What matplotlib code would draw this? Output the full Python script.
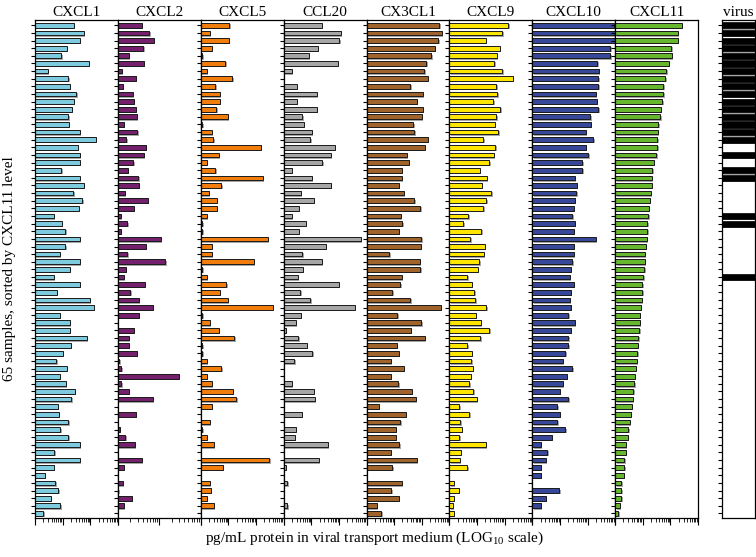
import numpy as np
import matplotlib
matplotlib.use("Agg")
import matplotlib.pyplot as plt
import matplotlib.patheffects as pe
from matplotlib.ticker import LogLocator, NullFormatter

plt.rcParams['font.family'] = ['Liberation Serif', 'DejaVu Serif']
plt.rcParams['mathtext.fontset'] = 'custom'
plt.rcParams['mathtext.rm'] = 'Liberation Serif'

nan = np.nan

# log10 pg/mL, 65 samples sorted by CXCL11 (top = highest); nan = not detected
cxcl1 = [1.40, 1.77, 1.63, 1.16, 0.95, 1.95, 0.46, 1.20, 1.27, 1.49, 1.40, 1.33, 1.21, 1.22, 1.63, 2.21,
         1.55, 1.63, 1.63, 0.95, 1.63, 1.77, 1.38, 1.71, 1.58, 0.68, 0.97, 1.09, 1.63, 1.09, 0.89, 1.63,
         1.27, 0.68, 1.63, 0.79, 1.98, 2.12, 0.89, 1.26, 1.25, 1.88, 1.29, 1.01, 0.77, 1.16, 0.89, 1.11,
         1.43, 1.32, 0.83, 0.86, 1.21, 0.91, 1.21, 1.63, 0.70, 1.63, 0.67, 0.35, 0.73, 0.85, 0.57, 0.92, 0.30]
cxcl2 = [0.58, 0.76, 0.86, 0.61, 0.27, 0.63, 0.09, 0.43, 0.12, 0.36, 0.38, 0.43, 0.46, 0.15, 0.47, 0.20,
         0.67, 0.63, 0.37, 0.24, 0.49, 0.51, 0.17, 0.72, 0.39, 0.07, 0.23, 0.07, 1.04, 0.67, 0.23, 1.14,
         0.19, 0.15, 0.65, 0.30, 0.51, 0.85, 0.51, nan, 0.39, 0.27, 0.26, 0.46, 0.03, 0.08, 1.47, 0.08,
         0.27, 0.84, nan, 0.43, nan, 0.05, 0.18, 0.41, nan, 0.58, 0.15, nan, 0.12, 0.01, 0.33, 0.15, nan]
cxcl5 = [1.03, 0.32, 1.01, 0.40, 0.06, 0.89, 0.21, 1.14, 0.53, 0.68, 0.68, 0.57, 0.97, 0.06, 0.40, 0.45,
         2.17, 0.65, 0.21, 0.53, 2.25, 0.75, 0.30, 0.59, 0.59, 0.21, 0.06, 0.06, 2.42, 0.40, 0.40, 1.91,
         0.06, 0.21, 0.93, 0.68, 0.97, 2.60, 0.06, 0.32, 0.65, 1.22, 0.06, 0.06, 0.21, 0.75, 0.21, 0.40,
         1.15, 1.29, 0.40, nan, 0.32, 0.06, 0.21, 0.47, nan, 2.48, 0.79, nan, 0.32, 0.36, 0.21, 0.47, nan]
ccl20 = [1.38, 2.07, 2.02, 1.23, 0.91, 1.96, 0.30, nan, 0.47, 1.20, 0.47, 1.21, 0.68, 0.73, 1.03, 0.96,
         1.85, 1.71, 1.40, 0.30, 1.03, 1.71, 0.62, 1.09, 0.56, 0.30, 0.80, 0.54, 2.79, 1.52, 0.68, 1.38,
         0.69, 0.52, 2.00, 0.61, 0.97, 2.58, 0.62, 0.44, 0.07, 0.53, 0.83, 1.04, 0.39, nan, nan, 0.30,
         1.09, 1.13, nan, 0.65, nan, 0.44, 0.41, 1.60, nan, 1.28, 0.07, nan, 0.14, nan, nan, 0.14, nan]
cx3cl1 = [2.64, 2.72, 2.60, 2.48, 2.35, 2.16, 2.09, 2.21, 1.59, 2.04, 1.82, 2.03, 2.01, 1.70, 1.73, 2.21,
          2.10, 1.47, 1.53, 1.27, 1.27, 1.16, 1.34, 1.73, 1.95, 1.25, 1.30, 1.16, 1.98, 1.97, 0.83, 1.93,
          1.95, 1.27, 1.22, 0.93, 1.59, 2.68, 1.12, 1.99, 1.61, 2.11, 1.10, 1.16, 0.87, 1.34, 0.87, 1.15,
          1.63, 1.78, 0.44, 1.43, 1.23, 1.06, 1.05, 1.19, 0.87, 1.81, 0.94, nan, 1.27, 0.90, 1.17, 0.37, 0.54]
cxcl9 = [2.13, 1.92, 1.31, 1.83, 1.72, 1.63, 1.92, 2.30, 1.70, 1.73, 1.59, 1.85, 1.70, 1.65, 1.77, 1.23,
         1.66, 1.61, 1.45, 1.10, 1.35, 1.18, 1.52, 1.33, 1.23, 0.68, 0.51, 1.16, 0.76, 1.28, 1.25, 1.08,
         1.02, 0.65, 0.81, 0.90, 0.94, 1.34, 0.96, 1.13, 1.45, 1.12, 0.65, 0.82, 0.80, 0.84, 0.77, 0.72,
         0.87, 1.00, 0.36, 0.72, 0.40, 0.44, 0.36, 1.31, 0.42, 0.37, 0.65, nan, 0.17, 0.35, 0.17, 0.13, 0.17]
cxcl10 = [2.95, 2.99, 2.99, 2.82, 2.82, 2.35, 2.41, 2.39, 2.39, 2.30, 2.33, 2.39, 2.10, 2.13, 1.93, 2.21,
          1.94, 2.03, 1.81, 1.81, 1.55, 1.62, 1.60, 1.55, 1.50, 1.45, 1.55, 1.50, 2.30, 1.50, 1.50, 1.45,
          1.40, 1.35, 1.50, 1.40, 1.35, 1.40, 1.30, 1.55, 1.40, 1.30, 1.30, 1.20, 1.10, 1.45, 1.25, 1.10,
          1.00, 1.30, 0.90, 1.00, 0.90, 1.20, 0.70, 0.30, 0.55, 0.48, 0.30, 0.30, nan, 0.98, 0.48, 0.30, nan]
cxcl11 = [2.42, 2.28, 2.28, 2.04, 2.05, 1.95, 1.85, 1.82, 1.75, 1.75, 1.71, 1.66, 1.63, 1.57, 1.54, 1.53,
          1.52, 1.49, 1.40, 1.34, 1.33, 1.32, 1.29, 1.26, 1.23, 1.20, 1.17, 1.16, 1.14, 1.11, 1.08, 1.07,
          1.05, 1.02, 0.99, 0.98, 0.96, 0.93, 0.90, 0.89, 0.87, 0.84, 0.81, 0.80, 0.78, 0.75, 0.72, 0.69,
          0.66, 0.63, 0.60, 0.57, 0.54, 0.48, 0.45, 0.39, 0.39, 0.33, 0.33, 0.32, 0.23, 0.23, 0.23, 0.17, 0.11]
# 1 = respiratory virus detected
virus = [1, 1, 1, 1, 1, 1, 1, 1, 1, 1, 1, 1, 1, 1, 1, 1, 0, 1, 0, 1, 1, 0, 0, 0, 0, 1, 1, 0, 0, 0, 0, 0,
         0, 1, 0, 0, 0, 0, 0, 0, 0, 0, 0, 0, 0, 0, 0, 0, 0, 0, 0, 0, 0, 0, 0, 0, 0, 0, 0, 0, 0, 0, 0, 0, 0]

names = ['CXCL1', 'CXCL2', 'CXCL5', 'CCL20', 'CX3CL1', 'CXCL9', 'CXCL10', 'CXCL11']
series = [cxcl1, cxcl2, cxcl5, ccl20, cx3cl1, cxcl9, cxcl10, cxcl11]
decades = [3, 2, 3, 3, 3, 3, 3, 3]
colors = ['#7ecbe0', '#74206c', '#f07d0c', '#a6a6a6', '#a0632c', '#ffe600', '#37479a', '#66b62e']

fig = plt.figure(figsize=(7.56, 5.57), dpi=100)

n = len(cxcl11)
rows = np.arange(n)
left0, pw = 35 / 756, (698 - 35) / 756 / 8
bot, ht = 1 - 518 / 557, (518 - 20) / 557
shadow = [pe.SimplePatchShadow(offset=(1.0, -1.0), shadow_rgbFace='0.5', alpha=0.7), pe.Normal()]


def style_axis(ax):
    ax.set_ylim(n - 0.4, -0.7)
    ax.set_yticks(rows)
    ax.tick_params(axis='y', direction='out', length=3, width=0.8, labelleft=False)
    for s in ax.spines.values():
        s.set_linewidth(0.9)


for i, (name, vals, col) in enumerate(zip(names, series, colors)):
    ax = fig.add_axes([left0 + i * pw, bot, pw, ht])
    v = np.array(vals, dtype=float)
    ok = ~np.isnan(v)
    ax.barh(rows[ok], 10 ** v[ok] - 1, left=1, height=0.62, color=col,
            edgecolor='#1a1a1a', linewidth=0.7, path_effects=shadow)
    ax.set_xscale('log')
    ax.set_xlim(1, 10 ** decades[i])
    ax.xaxis.set_major_locator(LogLocator(base=10))
    ax.xaxis.set_minor_locator(LogLocator(base=10, subs=np.arange(2, 10)))
    ax.xaxis.set_major_formatter(NullFormatter())
    ax.xaxis.set_minor_formatter(NullFormatter())
    ax.tick_params(axis='x', which='major', direction='out', length=5, width=0.8)
    ax.tick_params(axis='x', which='minor', direction='out', length=3, width=0.6)
    style_axis(ax)
    ax.set_title(name, fontsize=11, pad=3)

# virus panel
axv = fig.add_axes([722 / 756, bot, 33 / 756, ht])
vv = np.array(virus)
axv.barh(rows[vv == 1], 1, left=0, height=0.8, color='black', edgecolor='black',
         linewidth=0.5, path_effects=shadow)
axv.set_xlim(0, 1)
axv.set_xticks([])
style_axis(axv)
axv.set_title('virus', fontsize=11, pad=3)

fig.text(0.012, 0.517, '65 samples, sorted by CXCL11 level', rotation=90,
         ha='center', va='center', fontsize=11)
fig.text(0.496, 0.033, 'pg/mL protein in viral transport medium (LOG$_{10}$ scale)',
         ha='center', va='center', fontsize=11)

fig.savefig('out.png', dpi=100)
